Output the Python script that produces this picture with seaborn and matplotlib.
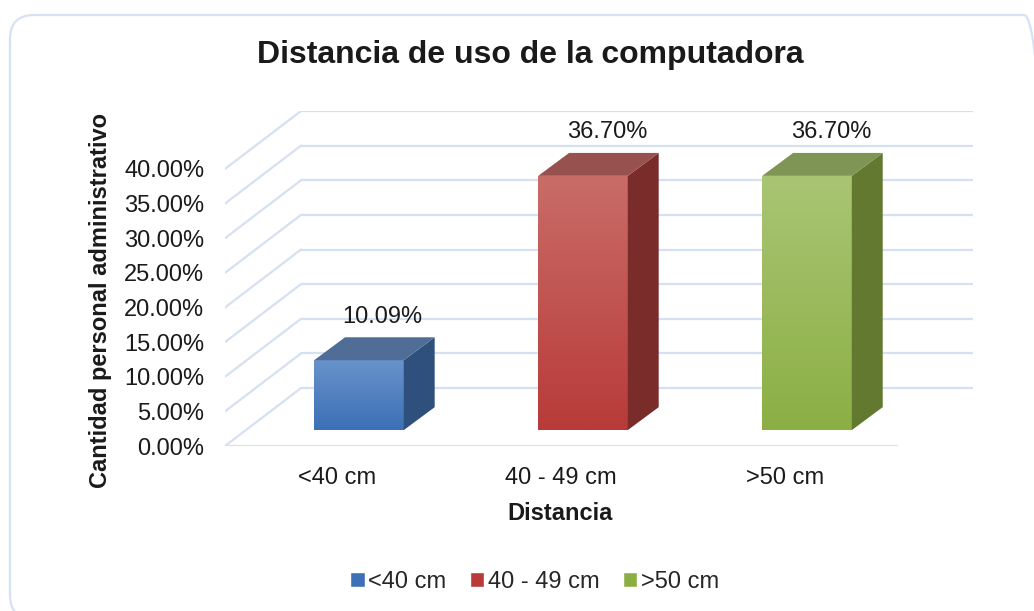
import numpy as np
import pandas as pd
import matplotlib.pyplot as plt
import seaborn as sns
from matplotlib.colors import LinearSegmentedColormap
from matplotlib.patches import Polygon, FancyBboxPatch
from matplotlib.transforms import IdentityTransform

sns.set_style("white")
plt.rcParams["font.family"] = ["Liberation Sans", "DejaVu Sans"]

# datos
categorias = ["<40 cm", "40 - 49 cm", ">50 cm"]
porcentajes = [10.09, 36.70, 36.70]
ticks_y = [0, 5, 10, 15, 20, 25, 30, 35, 40]

df = pd.DataFrame({"Distancia": categorias, "Porcentaje": porcentajes})

# colores (frente arriba, frente abajo, lado, tapa)
colores = {
    "<40 cm": ("#6892CA", "#3D70B6", "#2F4F7C", "#506D98"),
    "40 - 49 cm": ("#C96C68", "#B83B39", "#7A2C2B", "#97524F"),
    ">50 cm": ("#A9C574", "#8CAF44", "#62792F", "#7F9556"),
}
paleta = {k: v[1] for k, v in colores.items()}

fig = plt.figure(figsize=(10.34, 6.11), dpi=100)
ax = fig.add_axes([0.2176, 0.2700, 0.7234, 0.5483])

# marco redondeado (en pixeles)
fig.patches.append(FancyBboxPatch((10, -8), 1038, 604,
                                  boxstyle="round,pad=0,rounding_size=24",
                                  transform=IdentityTransform(), fill=False,
                                  edgecolor="#D6E2F3", linewidth=1.6))

# profundidad (pared del fondo) y de las barras
DX, DY = 0.339, 8.36
OX, OY = 0.098, 2.3
BX, BY = 0.138, 3.31
grid_c = "#D5E1F2"

x0, x1 = -0.5, len(categorias) - 0.5
for t in ticks_y:
    ax.plot([x0 + DX, x1 + DX], [t + DY, t + DY], color=grid_c, lw=1.6, zorder=0)
    ax.plot([x0, x0 + DX], [t, t + DY], color=grid_c, lw=1.6, zorder=0)
ax.plot([x0, x1], [0, 0], color=grid_c, lw=1.6, zorder=0)

sns.barplot(data=df, x="Distancia", y="Porcentaje", hue="Distancia",
            palette=paleta, width=0.4, legend=False, ax=ax, zorder=3)

for bar, cat, val in zip(ax.patches, categorias, porcentajes):
    top_c, bot_c, side_c, tapa_c = colores[cat]
    bar.set_x(bar.get_x() + OX)
    bar.set_y(OY)
    bar.set_edgecolor("none")
    x, w, h = bar.get_x(), bar.get_width(), bar.get_height()
    y = bar.get_y()
    cmap = LinearSegmentedColormap.from_list(cat, [bot_c, top_c])
    grad = np.linspace(0, 1, 100).reshape(-1, 1)
    im = ax.imshow(grad, cmap=cmap, extent=[x, x + w, y, y + h], origin="lower",
                   aspect="auto", zorder=4)
    im.set_clip_path(bar)
    ax.add_patch(Polygon([(x + w, y), (x + w, y + h), (x + w + BX, y + h + BY), (x + w + BX, y + BY)],
                         closed=True, facecolor=side_c, edgecolor="none", zorder=4))
    ax.add_patch(Polygon([(x, y + h), (x + w, y + h), (x + w + BX, y + h + BY), (x + BX, y + h + BY)],
                         closed=True, facecolor=tapa_c, edgecolor="none", zorder=4))
    ax.annotate(f"{val:.2f}%", (x + w / 2 + BX / 2, y + h + BY), xytext=(6, 7),
                textcoords="offset points", ha="center", va="bottom", fontsize=17, color="#1a1a1a")

ax.set_xlim(x0, x1 + DX)
ax.set_ylim(0, 40 + DY)
ax.set_yticks(ticks_y)
ax.set_yticklabels([f"{t:.2f}%" for t in ticks_y])
ax.tick_params(axis="y", length=0, pad=15, labelsize=17, labelcolor="#1a1a1a")
ax.tick_params(axis="x", length=0, pad=15, labelsize=17, labelcolor="#1a1a1a")
ax.set_xlabel("")
ax.set_ylabel("")
for s in ax.spines.values():
    s.set_visible(False)

fig.text(0.513, 0.91, "Distancia de uso de la computadora", ha="center", va="center",
         fontsize=23, fontweight="bold", color="#1a1a1a")
fig.text(0.097, 0.509, "Cantidad personal administrativo", ha="center", va="center",
         rotation=90, fontsize=17, fontweight="bold", color="#1a1a1a")
fig.text(0.5416, 0.160, "Distancia", ha="center", va="center",
         fontsize=17, fontweight="bold", color="#1a1a1a")

handles = [plt.Rectangle((0, 0), 1, 1, facecolor=colores[c][1]) for c in categorias]
fig.legend(handles, categorias, loc="center", bbox_to_anchor=(0.517, 0.047), ncol=3,
           frameon=False, fontsize=17, handlelength=0.6, handleheight=0.6,
           handletextpad=0.15, columnspacing=1.0)

fig.savefig("out.png", dpi=100)
